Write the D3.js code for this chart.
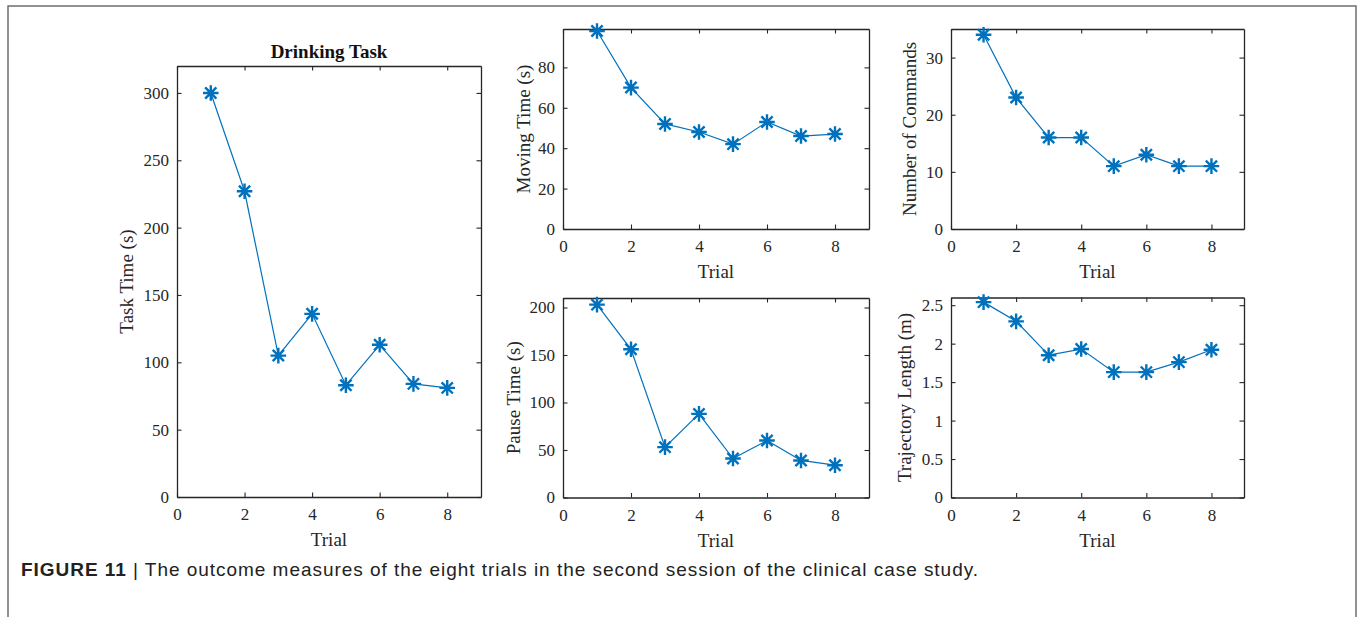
<!DOCTYPE html>
<html>
<head>
<meta charset="utf-8">
<script src="https://cdn.jsdelivr.net/npm/d3@7"></script>
<style>
  body{margin:0;background:#fff;}
  svg{display:block;}
  .lbl{font-family:"Liberation Serif","Times New Roman",serif;font-size:19px;fill:#262626;}
</style>
</head>
<body>
<svg width="1360" height="617"></svg>
<script>
// data
const trials=[1,2,3,4,5,6,7,8];
const taskTime=[300,227,105,136,83,113,84,81];
const movingTime=[98,70,52,48,42,53,46,47];
const numCommands=[34,23,16,16,11,13,11,11];
const pauseTime=[203,156,53,88,41,60,39,34];
const trajLength=[2.54,2.29,1.85,1.93,1.63,1.63,1.76,1.92];

const xTicks=[0,2,4,6,8];

const svg=d3.select('svg');
const blue='#0072BD', ink='#262626';
const serif='"Liberation Serif","Times New Roman",serif';

// outer frame
svg.append('rect')
   .attr('x',8).attr('y',6).attr('width',1348).attr('height',640)
   .attr('fill','none').attr('stroke','#6e6e6e').attr('stroke-width',1.5);

// asterisk marker like matlab '*'
const star=r=>{
  const p=d3.path(), d=r*0.72;
  p.moveTo(-r,0);p.lineTo(r,0);
  p.moveTo(0,-r);p.lineTo(0,r);
  p.moveTo(-d,-d);p.lineTo(d,d);
  p.moveTo(-d,d);p.lineTo(d,-d);
  return p.toString();
};

const panels=[
  {vals:taskTime,   l:177,r:481,t:66, b:497,   ymax:320, yt:d3.range(0,301,50), lab:'Task Time (s)',        lx:127, title:'Drinking Task'},
  {vals:movingTime, l:563,r:869,t:29, b:229,   ymax:99,  yt:d3.range(0,81,20),  lab:'Moving Time (s)',      lx:524},
  {vals:numCommands,l:951,r:1244,t:29,b:229,   ymax:35,  yt:[0,10,20,30],       lab:'Number of Commands',   lx:910},
  {vals:pauseTime,  l:563,r:869,t:298,b:497.5, ymax:210, yt:d3.range(0,201,50), lab:'Pause Time (s)',       lx:514},
  {vals:trajLength, l:951,r:1244,t:297.5,b:497.5, ymax:2.6, yt:[0,0.5,1,1.5,2,2.5], lab:'Trajectory Length (m)', lx:905}
];

panels.forEach(p=>{
  const x=d3.scaleLinear().domain([0,9]).range([p.l,p.r]);
  const y=d3.scaleLinear().domain([0,p.ymax]).range([p.b,p.t]);
  const g=svg.append('g');

  const style=sel=>{
    sel.selectAll('path,line').attr('stroke',ink).attr('stroke-width',1.1);
    sel.select('.domain').attr('stroke-width',1.3);
    sel.selectAll('text')
       .style('font-family',serif).style('font-size','17px').style('fill',ink);
  };

  g.append('g').attr('transform',`translate(0,${p.b})`)
   .call(d3.axisBottom(x).tickValues(xTicks).tickSize(-4.5).tickSizeOuter(0).tickPadding(11).tickFormat(d3.format('d')))
   .call(style);
  g.append('g').attr('transform',`translate(0,${p.t})`)
   .call(d3.axisTop(x).tickValues(xTicks).tickSize(-4.5).tickSizeOuter(0).tickFormat(''))
   .call(style);
  g.append('g').attr('transform',`translate(${p.l},0)`)
   .call(d3.axisLeft(y).tickValues(p.yt).tickSize(-4.5).tickSizeOuter(0).tickPadding(8).tickFormat(d=>String(d)))
   .call(style);
  g.append('g').attr('transform',`translate(${p.r},0)`)
   .call(d3.axisRight(y).tickValues(p.yt).tickSize(-4.5).tickSizeOuter(0).tickFormat(''))
   .call(style);

  const line=d3.line().x((d,i)=>x(trials[i])).y(d=>y(d));
  g.append('path').datum(p.vals)
   .attr('d',line).attr('fill','none').attr('stroke',blue).attr('stroke-width',1.2);

  g.selectAll('.mk').data(p.vals).enter().append('path')
   .attr('class','mk')
   .attr('transform',(d,i)=>`translate(${x(trials[i])},${y(d)})`)
   .attr('d',star(7.8))
   .attr('stroke',blue).attr('stroke-width',2.4).attr('fill','none');

  g.append('text').attr('class','lbl')
   .attr('x',(p.l+p.r)/2).attr('y',p.b+49)
   .attr('text-anchor','middle').text('Trial');

  g.append('text').attr('class','lbl')
   .attr('transform',`translate(${p.lx+6},${(p.t+p.b)/2}) rotate(-90)`)
   .attr('text-anchor','middle').text(p.lab);

  if(p.title){
    g.append('text').attr('class','lbl')
     .attr('x',(p.l+p.r)/2).attr('y',p.t-8)
     .attr('text-anchor','middle').attr('font-weight','bold')
     .style('fill','#111').text(p.title);
  }
});

// caption
const cap=svg.append('text')
  .attr('x',21).attr('y',576)
  .attr('textLength',957).attr('lengthAdjust','spacing')
  .style('font-family','"Liberation Sans",Arial,sans-serif')
  .style('font-size','19px').style('fill','#222');
cap.append('tspan').attr('font-weight','bold').text('FIGURE 11');
cap.append('tspan').text(' | The outcome measures of the eight trials in the second session of the clinical case study.');
</script>
</body>
</html>
